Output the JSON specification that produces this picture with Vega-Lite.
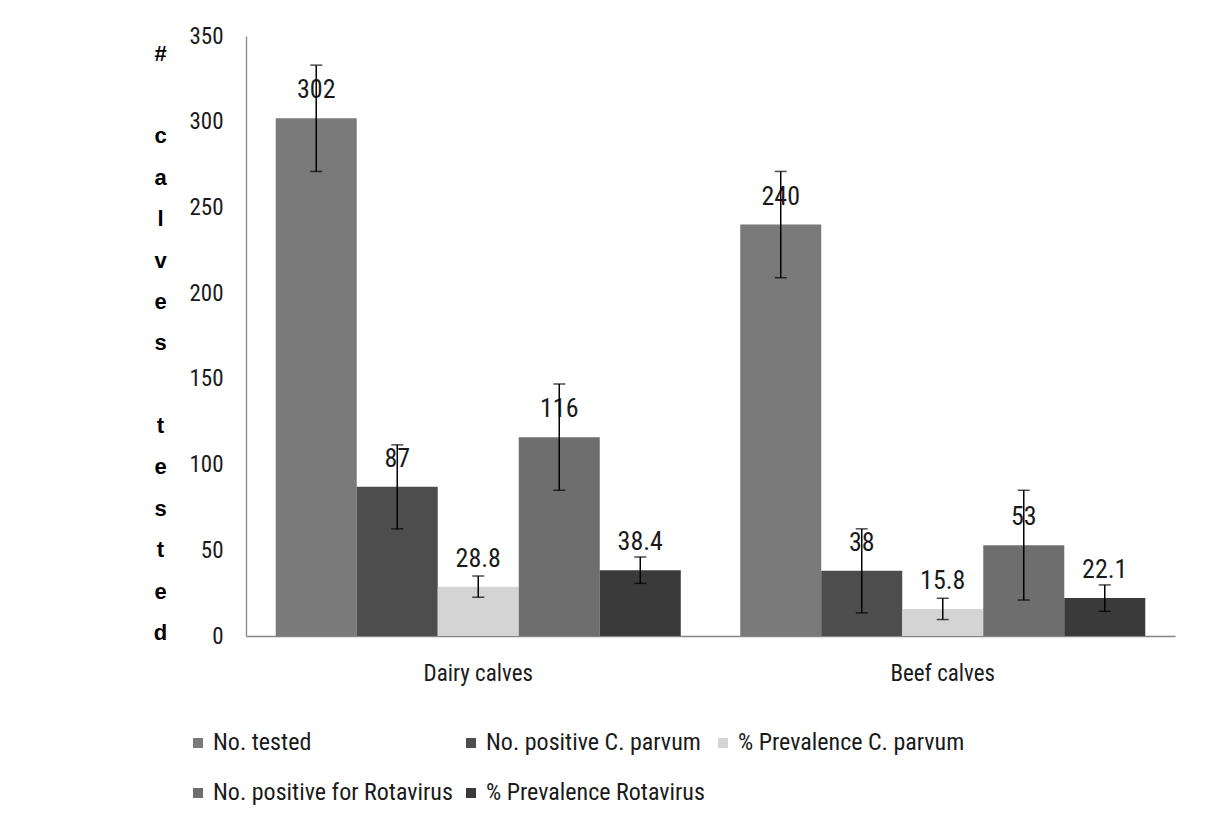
{
  "$schema": "https://vega.github.io/schema/vega-lite/v6.json",
  "width": 929,
  "height": 600,
  "autosize": "none",
  "padding": {"left": 246, "top": 36, "right": 33, "bottom": 190},
  "background": "white",
  "data": {
    "values": [
      {"group": "Dairy calves", "series": "No. tested", "value": 302, "lo": 271, "hi": 333},
      {"group": "Dairy calves", "series": "No. positive C. parvum", "value": 87, "lo": 62.5, "hi": 111.5},
      {"group": "Dairy calves", "series": "% Prevalence C. parvum", "value": 28.8, "lo": 22.6, "hi": 35},
      {"group": "Dairy calves", "series": "No. positive for Rotavirus", "value": 116, "lo": 85, "hi": 147},
      {"group": "Dairy calves", "series": "% Prevalence Rotavirus", "value": 38.4, "lo": 30.7, "hi": 46.1},
      {"group": "Beef calves", "series": "No. tested", "value": 240, "lo": 209, "hi": 271},
      {"group": "Beef calves", "series": "No. positive C. parvum", "value": 38, "lo": 13.5, "hi": 62.5},
      {"group": "Beef calves", "series": "% Prevalence C. parvum", "value": 15.8, "lo": 9.6, "hi": 22},
      {"group": "Beef calves", "series": "No. positive for Rotavirus", "value": 53, "lo": 21, "hi": 85},
      {"group": "Beef calves", "series": "% Prevalence Rotavirus", "value": 22.1, "lo": 14.4, "hi": 29.8}
    ]
  },
  "encoding": {
    "x": {
      "field": "group",
      "type": "nominal",
      "sort": ["Dairy calves", "Beef calves"],
      "scale": {"paddingInner": 0.128, "paddingOuter": 0.064},
      "axis": {
        "title": null,
        "labelAngle": 0,
        "ticks": false,
        "tickSize": 0,
        "labelPadding": 26,
        "labelFontSize": 23,
        "labelColor": "#1a1a1a",
        "domainColor": "#868686",
        "domainWidth": 1.3
      }
    },
    "xOffset": {
      "field": "series",
      "type": "nominal",
      "sort": ["No. tested", "No. positive C. parvum", "% Prevalence C. parvum", "No. positive for Rotavirus", "% Prevalence Rotavirus"],
      "scale": {"paddingInner": 0, "paddingOuter": 0}
    }
  },
  "layer": [
    {
      "mark": {"type": "bar"},
      "encoding": {
        "y": {
          "field": "value",
          "type": "quantitative",
          "scale": {"domain": [0, 350], "nice": false},
          "axis": {
            "values": [0, 50, 100, 150, 200, 250, 300, 350],
            "grid": false,
            "ticks": false,
            "tickSize": 0,
            "labelPadding": 23,
            "labelFontSize": 23,
            "labelColor": "#1a1a1a",
            "domainColor": "#868686",
            "domainWidth": 1.3,
            "title": ["#", "\u200b", "c", "a", "l", "v", "e", "s", "\u200b", "t", "e", "s", "t", "e", "d"],
            "titleAngle": 0,
            "titleFontSize": 22,
            "titleFontWeight": "bold",
            "titleFont": "Liberation Sans",
            "titleColor": "#000000",
            "titleLineHeight": 41.4,
            "titleAlign": "center",
            "titleBaseline": "middle",
            "titleX": -86,
            "titleY": 17
          }
        },
        "color": {
          "field": "series",
          "type": "nominal",
          "sort": ["No. tested", "No. positive C. parvum", "% Prevalence C. parvum", "No. positive for Rotavirus", "% Prevalence Rotavirus"],
          "scale": {"range": ["#7a7a7a", "#4d4d4d", "#d4d4d4", "#6e6e6e", "#3a3a3a"]},
          "legend": {
            "title": null,
            "orient": "none",
            "legendX": -60,
            "legendY": 695,
            "direction": "horizontal",
            "columns": 3,
            "columnPadding": 6,
            "rowPadding": 26,
            "padding": 0,
            "symbolType": "square",
            "symbolSize": 100,
            "symbolStrokeWidth": 0,
            "labelFontSize": 24,
            "labelColor": "#1a1a1a",
            "labelOffset": 3,
            "labelLimit": 400
          }
        }
      }
    },
    {
      "mark": {"type": "text", "dy": -28, "fontSize": 26, "color": "#1a1a1a", "baseline": "middle"},
      "encoding": {
        "y": {"field": "value", "type": "quantitative"},
        "text": {"field": "value", "type": "quantitative"}
      }
    },
    {
      "mark": {"type": "rule", "color": "#000000", "strokeWidth": 1.5},
      "encoding": {
        "y": {"field": "lo", "type": "quantitative"},
        "y2": {"field": "hi"}
      }
    },
    {
      "mark": {"type": "tick", "color": "#000000", "size": 12, "thickness": 1.5},
      "encoding": {
        "y": {"field": "lo", "type": "quantitative"}
      }
    },
    {
      "mark": {"type": "tick", "color": "#000000", "size": 12, "thickness": 1.5},
      "encoding": {
        "y": {"field": "hi", "type": "quantitative"}
      }
    }
  ],
  "config": {
    "font": "Liberation Sans Narrow, Roboto Condensed, Liberation Sans, sans-serif",
    "view": {"stroke": null}
  }
}
